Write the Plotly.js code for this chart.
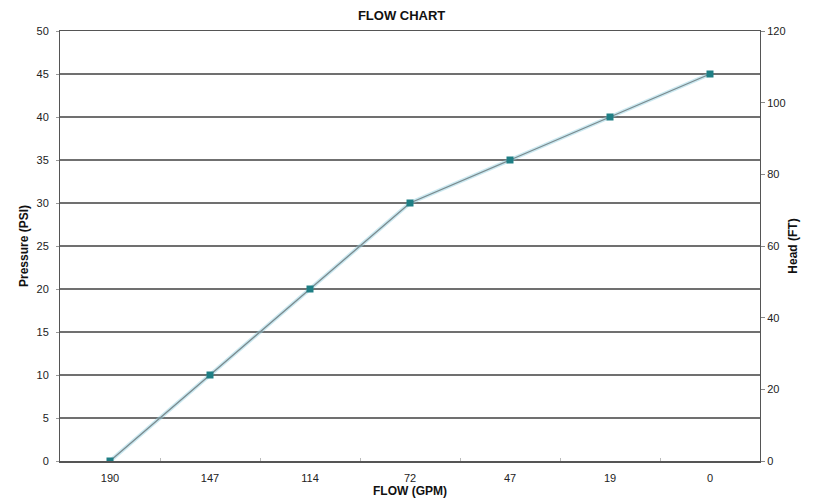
<!DOCTYPE html>
<html><head><meta charset="utf-8">
<script src="https://cdn.plot.ly/plotly-3.0.1.min.js"></script>
<style>body{margin:0;background:#fff}#c{width:813px;height:502px}</style>
</head><body><div id="c"></div>
<script>
const flowLabels = ["190","147","114","72","47","19","0"];
const pressure = [0,10,20,30,35,40,45];
const headTicks = [0,20,40,60,80,100,120];
const pressureTicks = [0,5,10,15,20,25,30,35,40,45,50];

const fam = "Liberation Sans, Arial, sans-serif";
const tf = {family:fam, size:11, color:"#222"};
const traces = [
  {x: flowLabels, y: pressure, type:"scatter", mode:"lines", line:{color:"rgba(150,210,225,0.5)", width:4}, hoverinfo:"skip", showlegend:false},
  {x: flowLabels, y: pressure, type:"scatter", mode:"lines+markers",
   line:{color:"#7a8a8e", width:1.3},
   marker:{symbol:"square", size:7, color:"#1f7f85"}, showlegend:false},
  {x: flowLabels, y: headTicks.map(v=>null), yaxis:"y2", type:"scatter", mode:"lines", showlegend:false, hoverinfo:"skip"}
];
const layout = {
  width:813, height:502,
  margin:{l:60, r:53, t:31, b:41},
  paper_bgcolor:"#fff", plot_bgcolor:"#fff",
  font: tf,
  title:{text:"<b>FLOW CHART</b>", x:0.494, xanchor:"center", y:0.970, yanchor:"middle", font:{family:fam, size:13, color:"#111"}},
  xaxis:{type:"category", range:[-0.5,6.5], showgrid:false, showline:true, linecolor:"#555", linewidth:1.5, mirror:true,
    ticks:"inside", tickson:"boundaries", ticklen:3, tickcolor:"#bbb", ticklabelstandoff:6, tickfont:tf,
    title:{text:"<b>FLOW (GPM)</b>", standoff:2, font:{family:fam,size:12,color:"#111"}}},
  yaxis:{range:[0,50], tickvals:pressureTicks, showgrid:true, gridcolor:"#707070", gridwidth:1.2,
    showline:true, linecolor:"#555", linewidth:1, zeroline:false, ticks:"outside", ticklen:3, tickcolor:"#999",
    ticklabelstandoff:5, tickfont:tf,
    title:{text:"<b>Pressure (PSI)</b>", standoff:5, font:{family:fam,size:12,color:"#111"}}},
  yaxis2:{range:[0,120], tickvals:headTicks, overlaying:"y", side:"right", showgrid:false,
    showline:true, linecolor:"#555", linewidth:1, zeroline:false, ticks:"outside", ticklen:4, tickcolor:"#888",
    tickfont:tf,
    title:{text:"<b>Head (FT)</b>", standoff:4, font:{family:fam,size:12,color:"#111"}}}
};
Plotly.newPlot("c", traces, layout, {displayModeBar:false, staticPlot:true});
</script></body></html>
